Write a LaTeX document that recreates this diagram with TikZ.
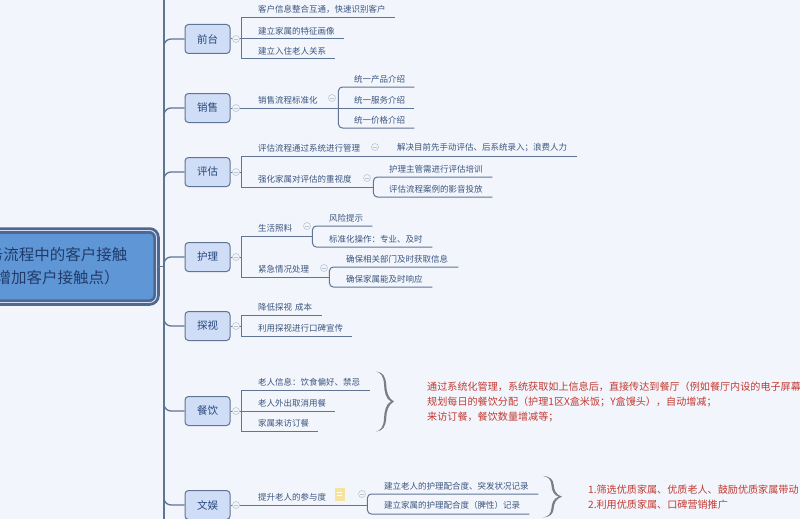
\documentclass[tikz,border=0pt]{standalone}
\usepackage{fontspec}
\setmainfont{Noto Sans CJK SC}
\usepackage{tikz}
\definecolor{bgcol}{HTML}{F2F5FB}
\definecolor{linecol}{HTML}{607594}
\definecolor{textcol}{HTML}{3C5680}
\definecolor{catcol}{HTML}{27467E}
\definecolor{catfill}{HTML}{CFDEF6}
\definecolor{rootfill}{HTML}{5F97D6}
\definecolor{rootline}{HTML}{50688F}
\definecolor{redcol}{HTML}{C23B33}
\definecolor{bracecol}{HTML}{7C7F82}
\definecolor{foldcol}{HTML}{BCC7D6}
\definecolor{noteyellow}{HTML}{F7E3A0}
\tikzset{
	conn/.style={draw=linecol, line width=1pt},
	rconn/.style={conn, rounded corners=4pt},
	spine/.style={draw=linecol, line width=1.3pt, rounded corners=7pt},
	catbox/.style={draw=linecol, line width=1pt, fill=catfill, rounded corners=3.5pt, minimum width=45pt, minimum height=29pt, inner sep=0pt, text=catcol, font=\fontsize{10.5}{12}\selectfont},
	leaf/.style={anchor=south west, align=left, inner xsep=0pt, inner ysep=4pt, text=textcol, font=\fontsize{8.5}{10}\selectfont},
	foldmark/.style={circle, draw=foldcol, line width=.6pt, fill=bgcol, minimum size=7pt, inner sep=0pt, path picture={\draw[foldcol, line width=.6pt] ([xshift=-1.8pt]path picture bounding box.center) -- ([xshift=1.8pt]path picture bounding box.center);}},
	redtext/.style={anchor=west, align=left, inner sep=0pt, text=redcol, font=\fontsize{10.1}{15}\selectfont},
	noteicon/.style={fill=noteyellow, minimum width=10pt, minimum height=13pt, inner sep=0pt, path picture={\draw[white, line width=.7pt] ([xshift=-2.5pt,yshift=2pt]path picture bounding box.center) -- ([xshift=2.5pt,yshift=2pt]path picture bounding box.center) ([xshift=-2.5pt,yshift=-1pt]path picture bounding box.center) -- ([xshift=2.5pt,yshift=-1pt]path picture bounding box.center);}},
	pics/bigbrace/.style={code={
		\fill[bracecol] (0,0) .. controls (7,.5) and (9.6,5) .. (10.2,13) .. controls (10.5,20) and (12,27) .. (18,30)
			.. controls (12,33) and (10.5,40) .. (10.2,47) .. controls (9.6,55) and (7,59.5) .. (0,60)
			.. controls (5,59) and (7.6,55) .. (8,47) .. controls (8.2,40) and (10,32) .. (15,30)
			.. controls (10,28) and (8.2,20) .. (8,13) .. controls (7.6,5) and (5,1) .. (0,0) -- cycle;
	}},
}

\begin{document}
\begin{tikzpicture}[x=1pt, y=-1pt]
	\fill[bgcol] (0,0) rectangle (800,519);
	\useasboundingbox (0,0) rectangle (800,519);

	\coordinate (sptop) at (164,0);
	\coordinate (spbot) at (164,519);

	% centre
	\node[draw=rootline, line width=2.8pt, double=catfill, double distance=.9pt, fill=rootfill, rounded corners=7pt, minimum width=198pt, minimum height=72pt, inner sep=0pt, align=center, text=catcol!85!black, font=\fontsize{15.5}{23}\selectfont] (root) at (57.5,266.5) {务流程中的客户接触\\增加客户接触点）};

	% second level
	\node[catbox] (qt) at (207.5,39) {前台};
	\node[catbox, below of=qt, node distance=69pt] (xs) {销售};
	\node[catbox, below of=xs, node distance=64pt] (pg) {评估};
	\node[catbox, below of=pg, node distance=85pt] (hl) {护理};
	\node[catbox, below of=hl, node distance=69pt] (ts) {探视};
	\node[catbox, below of=ts, node distance=85pt] (cy) {餐饮};
	\node[catbox, below of=cy, node distance=94pt] (wy) {文娱};

	% leaves
	\node[leaf, text width=137pt] (qt1) at (258,18) {客户信息整合互通，快速识别客户};
	\node[leaf, text width=86pt] (qt2) at (258,39) {建立家属的特征画像};
	\node[leaf, text width=77pt] (qt3) at (258,59) {建立入住老人关系};

	\node[leaf, text width=80pt] (xs1) at (258,108) {销售流程标准化};
	\node[leaf, text width=60pt] (xs11) at (354,87) {统一产品介绍};
	\node[leaf, text width=60pt] (xs12) at (354,108) {统一服务介绍};
	\node[leaf, text width=60pt] (xs13) at (354,128) {统一价格介绍};

	\node[leaf, text width=115pt] (pg1) at (258,156) {评估流程通过系统进行管理};
	\node[leaf, text width=180pt] (pg11) at (397,156) {解决目前先手动评估、后系统录入；浪费人力};
	\node[leaf, text width=115pt] (pg2) at (258,187) {强化家属对评估的重视度};
	\node[leaf, text width=103pt] (pg21) at (389,177) {护理主管需进行评估培训};
	\node[leaf, text width=103pt] (pg22) at (389,197) {评估流程案例的影音投放};

	\node[leaf, text width=54pt] (hl1) at (258,236) {生活照料};
	\node[leaf, text width=43pt] (hl11) at (329,226) {风险提示};
	\node[leaf, text width=103pt] (hl12) at (329,247) {标准化操作：专业、及时};
	\node[leaf, text width=71pt] (hl2) at (258,277) {紧急情况处理};
	\node[leaf, text width=112pt] (hl21) at (346,267) {确保相关部门及时获取信息};
	\node[leaf, text width=86pt] (hl22) at (346,287) {确保家属能及时响应};

	\node[leaf, text width=64pt] (ts1) at (258,315) {降低探视 成本};
	\node[leaf, text width=94pt] (ts2) at (258,336) {利用探视进行口碑宣传};

	\node[leaf, text width=112pt] (cy1) at (258,390) {老人信息：饮食偏好、禁忌};
	\node[leaf, text width=77pt] (cy2) at (258,411) {老人外出取消用餐};
	\node[leaf, text width=60pt] (cy3) at (258,431) {家属来访订餐};

	\node[leaf, text width=109pt] (wy1) at (258,505) {提升老人的参与度};
	\node[leaf, text width=154pt] (wy11) at (384,494) {建立老人的护理配合度、突发状况记录};
	\node[leaf, text width=145pt] (wy12) at (384,514) {建立家属的护理配合度（脾性）记录};

	% spine and branches
	\draw[spine] (sptop) -- (spbot);
	\draw[conn, line width=1.3pt] (root.east) -- (root.east -| sptop);
	\draw[spine] (qt.west) -| (spbot);
	\draw[spine] (xs.west) -| (spbot);
	\draw[spine] (pg.west) -| (spbot);
	\draw[spine] (hl.west) -| (spbot);
	\draw[spine] (ts.west) -| (sptop);
	\draw[spine] (cy.west) -| (sptop);
	\draw[spine] (wy.west) -| (sptop);

	\coordinate (qtj) at (241,39);
	\coordinate (pgj) at (241,172);
	\coordinate (hlj) at (241,257);
	\coordinate (tsj) at (241,326);
	\coordinate (cyj) at (241,411);

	\draw[conn] (qt.east) -- (qt2.south east);
	\draw[conn] (qtj) |- (qt1.south east);
	\draw[conn] (qtj) |- (qt3.south east);

	\draw[conn] (xs.east) -- (xs1.south east);
	\draw[conn] (xs1.south east) -- (xs12.south east);
	\draw[rconn] (xs1.south east) |- (xs11.south east);
	\draw[rconn] (xs1.south east) |- (xs13.south east);

	\draw[conn] (pg.east) -- (pgj);
	\draw[conn] (pgj) |- (pg11.south east);
	\draw[conn] (pgj) |- (pg2.south east);
	\draw[rconn] (pg2.south east) |- (pg21.south east);
	\draw[rconn] (pg2.south east) |- (pg22.south east);

	\draw[conn] (hl.east) -- (hlj);
	\draw[conn] (hlj) |- (hl1.south east);
	\draw[conn] (hlj) |- (hl2.south east);
	\draw[rconn] (hl1.south east) |- (hl11.south east);
	\draw[rconn] (hl1.south east) |- (hl12.south east);
	\draw[rconn] (hl2.south east) |- (hl21.south east);
	\draw[rconn] (hl2.south east) |- (hl22.south east);

	\draw[conn] (ts.east) -- (tsj);
	\draw[conn] (tsj) |- (ts1.south east);
	\draw[conn] (tsj) |- (ts2.south east);

	\draw[conn] (cy.east) -- (cy2.south east);
	\draw[conn] (cyj) |- (cy1.south east);
	\draw[conn] (cyj) |- (cy3.south east);

	\draw[conn] (wy.east) -- (wy1.south east);
	\draw[rconn] (wy1.south east) |- (wy11.south east);
	\draw[rconn] (wy1.south east) |- (wy12.south east);

	% fold marks
	\node[foldmark] (fqt) at (236,39) {};
	\node[foldmark] (fxs) at (236,108) {};
	\node[foldmark] (fxs1) at (332,98) {};
	\node[foldmark] (fpg) at (236,172) {};
	\node[foldmark] (fpg1) at (375,147) {};
	\node[foldmark] (fpg2) at (367,178) {};
	\node[foldmark] (fhl) at (236,257) {};
	\node[foldmark] (fhl1) at (307,226) {};
	\node[foldmark] (fhl2) at (324,268) {};
	\node[foldmark] (fts) at (236,326) {};
	\node[foldmark] (fcy) at (236,411) {};
	\node[foldmark] (fwy) at (236,505) {};
	\node[foldmark] (fwy1) at (362,494) {};
	\node[noteicon] (wynote) at (339.5,494) {};

	% braces and remarks
	\pic at (376,371.5) {bigbrace};
	\pic[xscale=1.05, yscale=.69] at (543,476) {bigbrace};

	\node[redtext] (cyred) at (427,402) {通过系统化管理，系统获取如上信息后，直接传达到餐厅（例如餐厅内设的电子屏幕\\规划每日的餐饮分配（护理1区X盒米饭；Y盒馒头），自动增减；\\来访订餐，餐饮数量增减等；};
	\node[redtext] (wyred) at (588,497.5) {1.筛选优质家属、优质老人、鼓励优质家属带动\\2.利用优质家属、口碑营销推广};
\end{tikzpicture}
\end{document}
